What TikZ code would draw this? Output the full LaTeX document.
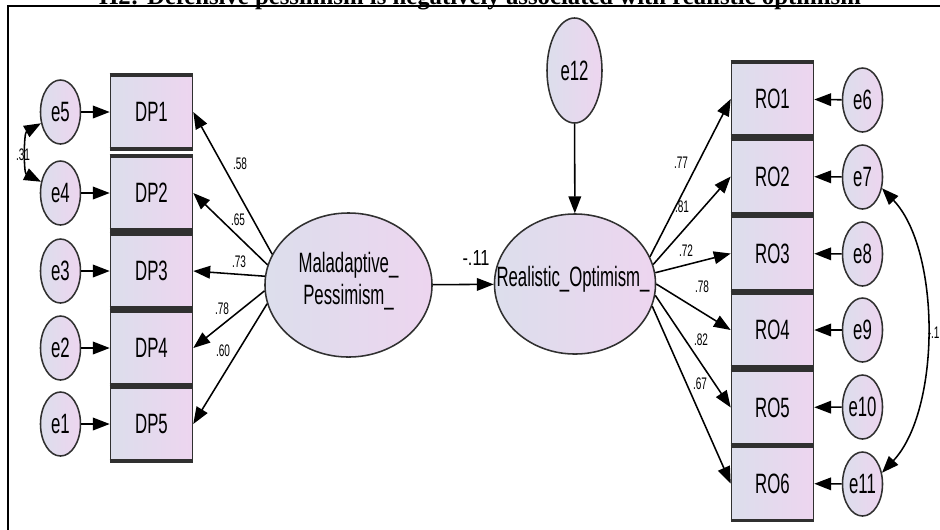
\documentclass[tikz,border=0pt]{standalone}
\usepackage{fontspec}
\setmainfont{Liberation Serif}
\newfontfamily\amosfont[FakeStretch=0.6]{Liberation Sans}
\newfontfamily\amoswide[FakeStretch=0.75]{Liberation Sans}
\usetikzlibrary{shapes.geometric,arrows.meta}
\definecolor{amosleft}{HTML}{DCDEEC}
\definecolor{amosright}{HTML}{EDD5EF}
\definecolor{amosline}{HTML}{303030}
\tikzset{
  observed/.style={rectangle, draw=amosline, line width=1.1pt, left color=amosleft, right color=amosright,
    minimum width=2.05cm, minimum height=1.81cm, inner sep=0pt, font=\amosfont\fontsize{19.9}{22}\selectfont,
    append after command={\pgfextra{\draw[amosline, line width=2.2pt] (\tikzlastnode.north west) -- (\tikzlastnode.north east)
      (\tikzlastnode.south west) -- (\tikzlastnode.south east);}}},
  errvar/.style={ellipse, draw=amosline, line width=1.1pt, left color=amosleft, right color=amosright,
    minimum width=1cm, minimum height=1.6cm, inner sep=0pt, font=\amosfont\fontsize{19.9}{22}\selectfont},
  latent/.style={ellipse, draw=amosline, line width=1.1pt, left color=amosleft, right color=amosright, inner sep=0pt},
  lattext/.style={inner sep=0pt, align=center, font=\amosfont\fontsize{19.9}{22.8}\selectfont},
  coef/.style={inner sep=0pt, font=\amosfont\fontsize{11.9}{13}\selectfont},
  titletext/.style={inner sep=0pt, font=\bfseries\fontsize{17.6}{20}\selectfont}
}
\begin{document}
\begin{tikzpicture}[x=0.025cm, y=-0.025cm, >={Triangle[length=12pt,width=9pt]}, line width=1.1pt]
            \useasboundingbox (0,0) rectangle (940,529);
            \node[titletext, anchor=base] (title) at (480,4.5) {H2: Defensive pessimism is negatively associated with realistic optimism};
            \draw[line width=1pt] (8,6) rectangle (990,600);
            \node[observed] (DP1) at (151.5,112) {DP1};
            \node[observed] (DP2) at (151.5,193) {DP2};
            \node[observed] (DP3) at (151.5,271) {DP3};
            \node[observed] (DP4) at (151.5,348) {DP4};
            \node[observed] (DP5) at (151.5,424) {DP5};
            \node[errvar] (e5) at (60.5,112) {e5};
            \node[errvar] (e4) at (60.5,193) {e4};
            \node[errvar] (e3) at (60.5,271) {e3};
            \node[errvar] (e2) at (60.5,348) {e2};
            \node[errvar] (e1) at (60.5,424) {e1};
            \draw[->] (e5) -- (DP1);
            \draw[->] (e4) -- (DP2);
            \draw[->] (e3) -- (DP3);
            \draw[->] (e2) -- (DP4);
            \draw[->] (e1) -- (DP5);
            \draw[<->] (e5.210) .. controls (23.6,133) and (23.6,173) .. (e4.150);
            \node[coef] (c31) at (23,155) {.31};
            \node[latent, minimum width=4.175cm, minimum height=3.6cm] (Mal) at (348.5,285) {};
            \node[lattext] (MalTxt) at (348.5,281) {Maladaptive\_\\Pessimism\_};
            \node[latent, minimum width=4.025cm, minimum height=3.5cm] (Real) at (575,284) {};
            \node[lattext] (RealTxt) at (573,279) {Realistic\_Optimism\_};
            \node[errvar, minimum width=1.375cm, minimum height=2.625cm] (e12) at (574.5,70.5) {e12};
            \draw[->] (e12) -- (Real);
            \draw[->] (Mal) -- (Real);
            \node[inner sep=0pt, font=\amoswide\fontsize{15.5}{17}\selectfont] (c11) at (476,258) {-.11};
            \draw[->] (Mal.158) -- (DP1.east);
            \draw[->] (Mal.166) -- (DP2.east);
            \draw[->] (Mal.174) -- (DP3.east);
            \draw[->] (Mal.184) -- (DP4.east);
            \draw[->] (Mal.193) -- (DP5.east);
            \node[coef] (c58) at (240,164) {.58};
            \node[coef] (c65) at (238,220) {.65};
            \node[coef] (c73) at (239,262) {.73};
            \node[coef] (c78a) at (222,309) {.78};
            \node[coef] (c60) at (223,351) {.60};
            \node[observed] (RO1) at (772.5,99) {RO1};
            \node[observed] (RO2) at (772.5,176.5) {RO2};
            \node[observed] (RO3) at (772.5,253.5) {RO3};
            \node[observed] (RO4) at (772.5,330) {RO4};
            \node[observed] (RO5) at (772.5,407.5) {RO5};
            \node[observed] (RO6) at (772.5,483.5) {RO6};
            \node[errvar] (e6) at (862.5,100) {e6};
            \node[errvar] (e7) at (862.5,177) {e7};
            \node[errvar] (e8) at (862.5,254) {e8};
            \node[errvar] (e9) at (862.5,330) {e9};
            \node[errvar] (e10) at (862.5,407) {e10};
            \node[errvar] (e11) at (862.5,484) {e11};
            \draw[->] (e6) -- (RO1);
            \draw[->] (e7) -- (RO2);
            \draw[->] (e8) -- (RO3);
            \draw[->] (e9) -- (RO4);
            \draw[->] (e10) -- (RO5);
            \draw[->] (e11) -- (RO6);
            \draw[<->] (e7.330) .. controls (941,250) and (941,410) .. (e11.30);
            \node[coef, anchor=west] (c1) at (927,333) {-.1};
            \draw[->] (Real.20) -- (RO1.west);
            \draw[->] (Real.14) -- (RO2.west);
            \draw[->] (Real.8) -- (RO3.west);
            \draw[->] (Real.0) -- (RO4.west);
            \draw[->] (Real.352) -- (RO5.west);
            \draw[->] (Real.344) -- (RO6.west);
            \node[coef] (c77) at (681,163) {.77};
            \node[coef] (c81) at (682,207) {.81};
            \node[coef] (c72) at (686,251) {.72};
            \node[coef] (c78b) at (702,287) {.78};
            \node[coef] (c82) at (701,340) {.82};
            \node[coef] (c67) at (700,384) {.67};
        \end{tikzpicture}
\end{document}
